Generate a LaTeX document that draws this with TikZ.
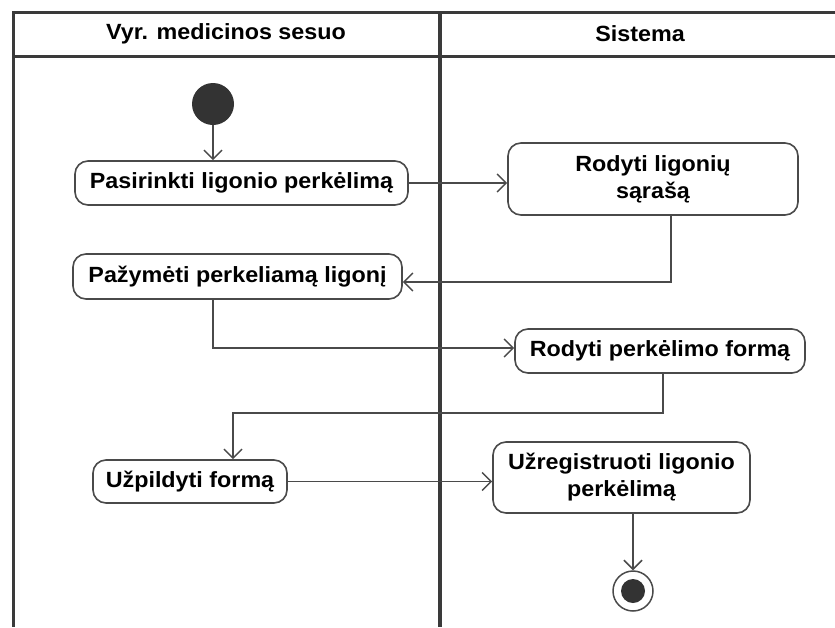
\documentclass[tikz,border=0pt]{standalone}
\usepackage{fontspec}
\setmainfont{Liberation Sans}
\newfontfamily\boxfont{Liberation Sans Bold}[FakeStretch=1.06]
\usetikzlibrary{arrows.meta}
\definecolor{edgegray}{HTML}{4A4A4A}
\definecolor{lanegray}{HTML}{3A3A3A}
\definecolor{dotfill}{HTML}{333333}
\begin{document}
\begin{tikzpicture}[x=1pt,y=-1pt,
  lane/.style={draw=lanegray,line width=3pt},
  actbox/.style={draw=edgegray,line width=1.6pt,rounded corners=13pt,fill=white,
    inner sep=0pt,align=center,font=\boxfont\fontsize{22}{27}\selectfont},
  flow/.style={draw=edgegray,line width=1.5pt,
    -{Straight Barb[length=9pt,width=18pt,line width=1.5pt]}},
  lanetitle/.style={font=\boxfont\fontsize{22}{26}\selectfont}]
\useasboundingbox (0,0) rectangle (835,627);
\fill[white] (0,0) rectangle (835,627);

% swimlane frame
\draw[lane] (835,12) -- (13,12) -- (13,627);
\draw[lane] (13,56) -- (835,56);
\draw[lane,line width=3.6pt] (440,12) -- (440,627);
\node[lanetitle] (laneA) at (226,34) {Vyr. medicinos sesuo};
\node[lanetitle] (laneB) at (640,34) {Sistema};

% initial and final nodes
\node[circle,fill=dotfill,minimum size=42pt,inner sep=0pt] (start) at (213,104) {};
\node[circle,draw=edgegray,line width=1.5pt,fill=white,minimum size=40pt,inner sep=0pt] (final) at (633,591) {};
\node[circle,fill=dotfill,minimum size=24pt,inner sep=0pt] (finaldot) at (final) {};

% actions
\node[actbox,minimum width=333pt,minimum height=44pt] (pick) at (241.5,183) {Pasirinkti ligonio perkėlimą};
\node[actbox,minimum width=290pt,minimum height=72pt] (list) at (653,179) {Rodyti ligonių\\sąrašą};
\node[actbox,minimum width=329pt,minimum height=45pt] (mark) at (237.5,276.5) {Pažymėti perkeliamą ligonį};
\node[actbox,minimum width=290pt,minimum height=44pt] (form) at (660,351) {Rodyti perkėlimo formą};
\node[actbox,minimum width=194pt,minimum height=43pt] (fill) at (190,481.5) {Užpildyti formą};
\node[actbox,minimum width=257pt,minimum height=71pt] (reg) at (621.5,477.5) {Užregistruoti ligonio\\perkėlimą};

% bend points of the flows
\coordinate (b1) at (671,282);
\coordinate (b2) at (213,348);
\coordinate (b3) at (663,413);
\coordinate (b4) at (233,413);

% control flows
\draw[flow] (start) -- (start |- pick.north);
\draw[flow] (pick.east) -- (pick.east -| list.west);
\draw[flow] (b1 |- list.south) -- (b1) -- (b1 -| mark.east);
\draw[flow] (b2 |- mark.south) -- (b2) -- (b2 -| form.west);
\draw[flow] (b3 |- form.south) -- (b3) -- (b4) -- (b4 |- fill.north);
\draw[flow] (fill.east) -- (fill.east -| reg.west);
\draw[flow] (final |- reg.south) -- (final.north);
\end{tikzpicture}
\end{document}
